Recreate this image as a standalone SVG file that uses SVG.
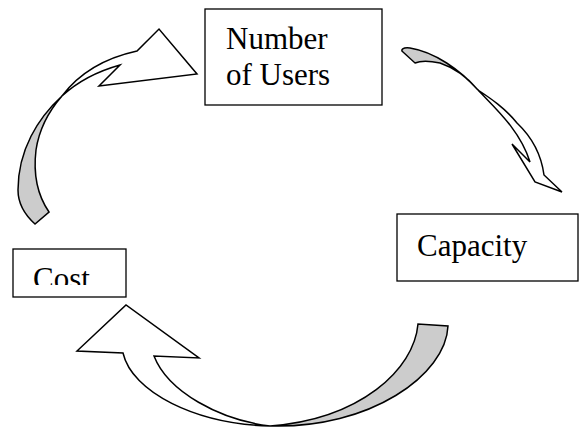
<svg xmlns="http://www.w3.org/2000/svg" width="579" height="430" viewBox="0 0 579 430">
<style>
.box{fill:#fff;stroke:#000;stroke-width:1.3}
.lbl{font-family:"Liberation Serif","Times New Roman",Times,Tinos,"Nimbus Roman","Nimbus Roman No9 L",FreeSerif,"Noto Serif","DejaVu Serif",serif;font-size:31px;fill:#000}
.front{fill:#fff;stroke:#000;stroke-width:1.5;stroke-linejoin:miter}
.back{fill:#cccccc;stroke:#000;stroke-width:1.5;stroke-linejoin:miter}
</style>
<defs>
<clipPath id="costClip"><rect x="13" y="249" width="113" height="36"/></clipPath>
</defs>
<rect width="579" height="430" fill="#fff"/>
<g id="connectors">
<g id="arrow-cost-users">
<path class="back" d="M 62,96 C 38,118 18,150 18,190 C 18,205 25,215 35,224 L 49,212 C 38,196 33,175 36,150 C 39,130 48,112 62,96 Z"/>
<path class="front" d="M 62,96 C 80,72 105,58 137,51 L 159,29 L 197,74 L 99,86 L 120,65 C 95,72 75,84 62,96 Z"/>
</g>
<g id="arrow-users-capacity">
<path class="back" d="M 478,90 C 460,70 435,52 410,48 C 403,47 400,50 403,52 L 415,63 C 420,61 430,61 440,63 C 455,68 468,78 478,90 Z"/>
<path class="front" d="M 478,90 C 495,108 520,130 530,162 L 512,144 L 535,182 L 562,192 L 544,175 C 542,160 535,140 517,123 C 505,108 490,98 478,90 Z"/>
</g>
<g id="arrow-capacity-cost">
<path class="back" d="M 270,426 C 360,419 414,370 418,324 L 448,326 C 446,375 370,429 270,426 Z"/>
<path class="front" d="M 270,426 C 195,424 132,392 123,353 L 77,351 L 126,305 L 199,358 L 154,356 C 168,392 220,420 270,426 Z"/>
</g>
</g>
<g id="node-users">
<rect class="box" x="205" y="9" width="177" height="96"/>
<text class="lbl" x="226" y="49">Number</text>
<text class="lbl" x="226" y="85">of Users</text>
</g>
<g id="node-capacity">
<rect class="box" x="397" y="214" width="181" height="67"/>
<text class="lbl" x="417" y="256">Capacity</text>
</g>
<g id="node-cost">
<rect class="box" x="13" y="249" width="113" height="48"/>
<text class="lbl" x="33" y="288.5" clip-path="url(#costClip)">Cost</text>
</g>
</svg>
